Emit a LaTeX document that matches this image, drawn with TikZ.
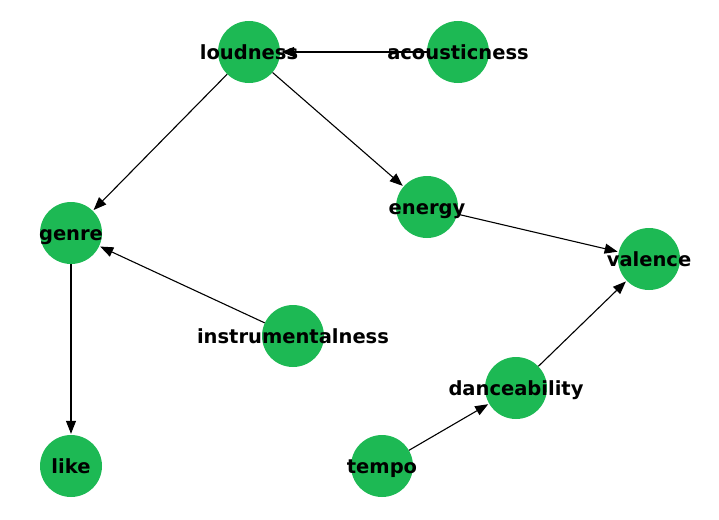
\documentclass[tikz,border=0pt]{standalone}
\usepackage{fontspec}
\setmainfont{DejaVu Sans}
\usetikzlibrary{arrows.meta}
\definecolor{nodegreen}{HTML}{1DB954}
\tikzset{
  vert/.style={circle, fill=nodegreen, draw=none, minimum size=62pt, inner sep=0pt},
  lbl/.style={font=\fontsize{19.5}{23}\selectfont\bfseries, inner sep=0pt, text=black, text height=0.74em, text depth=0.2em, yshift=-4.5pt},
  edge/.style={draw=black, line width=1.1pt, -{Triangle[length=13pt,width=10pt]}, shorten >=1pt}
}
\begin{document}
\begin{tikzpicture}[x=1pt,y=-1pt]
\useasboundingbox (0,0) rectangle (719,519);
\node[vert] (loudness) at (249,52) {};
\node[vert] (acousticness) at (458,52) {};
\node[vert] (energy) at (427,207) {};
\node[vert] (genre) at (71,233) {};
\node[vert] (valence) at (649,259) {};
\node[vert] (instrumentalness) at (293,336) {};
\node[vert] (danceability) at (516,388) {};
\node[vert] (like) at (71,466) {};
\node[vert] (tempo) at (382,466) {};
\draw[edge] (acousticness) -- (loudness);
\draw[edge] (loudness) -- (genre);
\draw[edge] (loudness) -- (energy);
\draw[edge] (energy) -- (valence);
\draw[edge] (instrumentalness) -- (genre);
\draw[edge] (genre) -- (like);
\draw[edge] (tempo) -- (danceability);
\draw[edge] (danceability) -- (valence);
\node[lbl] (tloudness) at (loudness) {loudness};
\node[lbl] (tacousticness) at (acousticness) {acousticness};
\node[lbl] (tenergy) at (energy) {energy};
\node[lbl] (tgenre) at (genre) {genre};
\node[lbl] (tvalence) at (valence) {valence};
\node[lbl] (tinstrumentalness) at (instrumentalness) {instrumentalness};
\node[lbl] (tdanceability) at (danceability) {danceability};
\node[lbl] (tlike) at (like) {like};
\node[lbl] (ttempo) at (tempo) {tempo};
\end{tikzpicture}
\end{document}
